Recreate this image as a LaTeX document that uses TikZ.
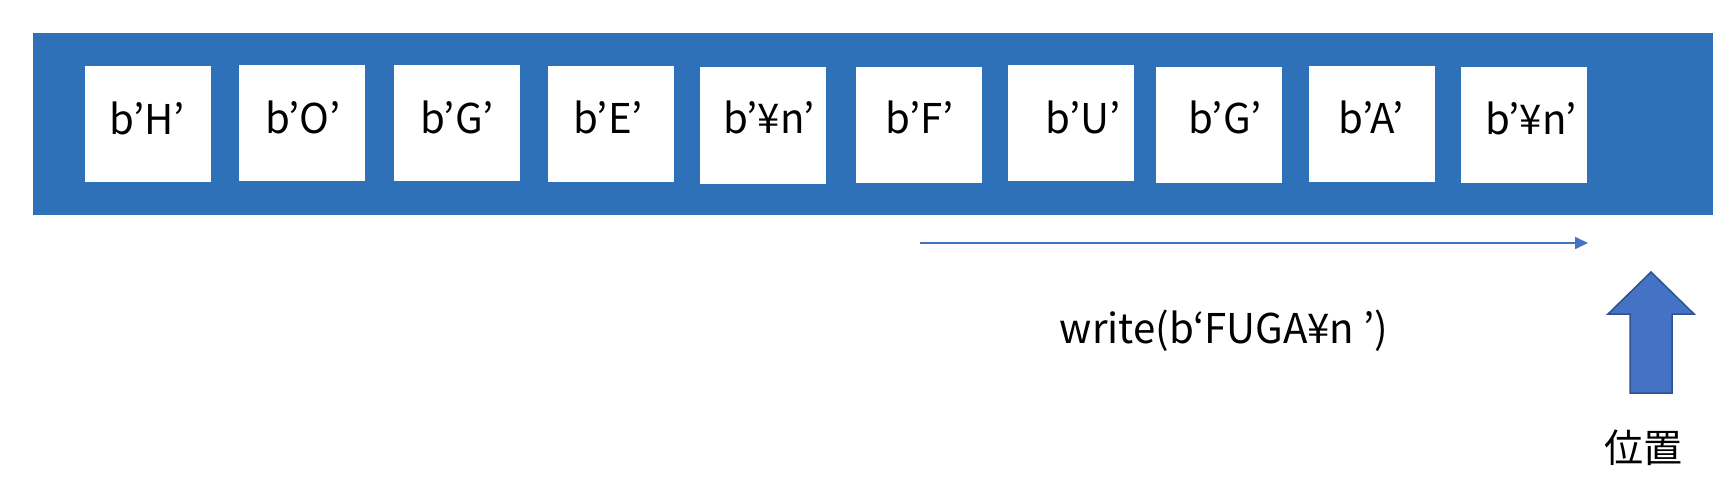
\documentclass[tikz,border=0pt]{standalone}
\usepackage{fontspec}
\setmainfont{Noto Sans CJK JP}
\newfontfamily\latinfont[FakeStretch=0.98]{Noto Sans CJK JP}
\newfontfamily\jpfont{Noto Sans CJK JP}
\usetikzlibrary{arrows.meta}
\definecolor{bandblue}{HTML}{2E71B8}
\definecolor{arrowblue}{HTML}{4472C4}
\definecolor{arrowedge}{HTML}{2F528F}
\tikzset{
  band/.style={fill=bandblue, draw=none, inner sep=0pt, minimum width=1680pt, minimum height=182pt},
  cell/.style={fill=white, draw=none, inner sep=0pt, minimum width=126pt, minimum height=116pt},
  celltext/.style={font=\latinfont\fontsize{41}{41}\selectfont, inner sep=0pt, anchor=base},
  writetext/.style={font=\latinfont\fontsize{41}{41}\selectfont, inner sep=0pt, anchor=base},
  postext/.style={font=\jpfont\fontsize{39}{39}\selectfont, inner sep=0pt},
  thinarrow/.style={draw=arrowblue, line width=1.6pt, -{Triangle[length=13pt,width=12pt]}},
  blockarrow/.style={fill=arrowblue, draw=arrowedge, line width=1.5pt, line join=miter},
}
\begin{document}
\begin{tikzpicture}[x=1pt,y=-1pt]
\useasboundingbox (0,0) rectangle (1736,500);
\node[band] (band) at (873,124) {};
% cells
\node[cell] (c1) at (148,124) {};
\node[cell] (c2) at (302,123) {};
\node[cell] (c3) at (457,123) {};
\node[cell] (c4) at (611,124) {};
\node[cell, minimum height=117pt] (c5) at (763,125.5) {};
\node[cell] (c6) at (919,125) {};
\node[cell] (c7) at (1071,123) {};
\node[cell] (c8) at (1219,125) {};
\node[cell] (c9) at (1372,124) {};
\node[cell] (c10) at (1524,125) {};
% cell texts
\node[celltext] (t1) at (147,135) {b’H’};
\node[celltext] (t2) at (303,133) {b’O’};
\node[celltext] (t3) at (457,133) {b’G’};
\node[celltext] (t4) at (608,133) {b’E’};
\node[celltext] (t5) at (769,134) {b’¥n’};
\node[celltext] (t6) at (920,133) {b’F’};
\node[celltext] (t7) at (1083,133) {b’U’};
\node[celltext] (t8) at (1225,133) {b’G’};
\node[celltext] (t9) at (1371,133) {b’A’};
\node[celltext] (t10) at (1531,135) {b’¥n’};
% write arrow
\coordinate (ws) at (920,243);
\coordinate (we) at (1588,243);
\draw[thinarrow] (ws) -- (we);
\node[writetext] (wt) at (1224,343) {write(b‘FUGA¥n ’)};
% position arrow
\draw[blockarrow] (1651,272) -- (1694,314) -- (1672,314) -- (1672,393) -- (1630,393) -- (1630,314) -- (1608,314) -- cycle;
\node[postext] (pos) at (1643,448) {位置};
\end{tikzpicture}
\end{document}
